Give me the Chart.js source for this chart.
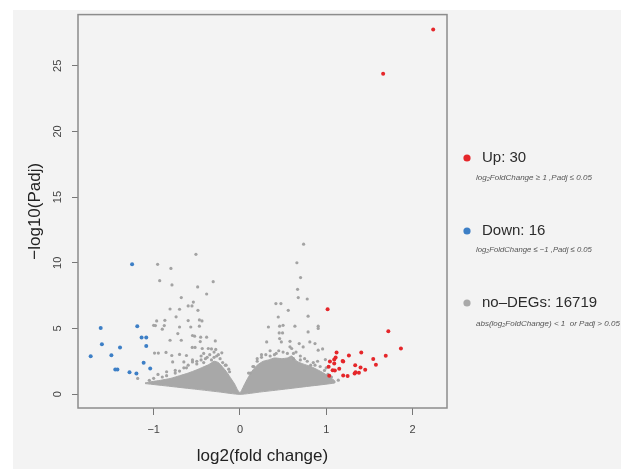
<!DOCTYPE html>
<html><head><meta charset="utf-8">
<script src="https://cdn.jsdelivr.net/npm/chart.js@4.4.1/dist/chart.umd.min.js"></script>
<style>html,body{margin:0;padding:0;background:#fff;}canvas{display:block;}</style>
</head><body>
<canvas id="c" width="621" height="469"></canvas>
<script>
// ---- data ----
const xTicks = [-1, 0, 1, 2];
const yTicks = [0, 5, 10, 15, 20, 25];

const upX = [2.24, 1.66, 1.016, 1.72, 1.866, 1.69, 1.545, 1.576, 1.406, 1.263, 1.12, 1.109, 1.093, 1.043, 1.197, 1.336, 1.398, 1.452, 1.34, 1.379, 1.329, 1.151, 1.074, 1.10, 1.197, 1.248, 1.035, 1.028, 1.093, 1.19];
const upY = [27.76, 24.4, 6.46, 4.79, 3.47, 2.91, 2.68, 2.23, 3.17, 2.94, 3.17, 2.79, 2.63, 2.48, 2.48, 2.20, 2.03, 1.85, 1.67, 1.62, 1.57, 1.92, 1.82, 1.80, 1.42, 1.37, 1.39, 2.08, 2.33, 2.51];

const downX = [-1.25, -1.614, -1.19, -1.14, -1.086, -1.60, -1.086, -1.39, -1.73, -1.49, -1.116, -1.445, -1.42, -1.28, -1.20, -1.04];
const downY = [9.88, 5.04, 5.16, 4.31, 4.31, 3.80, 3.67, 3.55, 2.89, 2.96, 2.38, 1.88, 1.88, 1.67, 1.57, 1.95];

const nsX = [-0.51, -0.954, -0.80, -0.93, -0.788, -0.49, -0.31, -0.386, -0.68, -0.54, -0.60, -0.556, -0.81, -0.70, -0.487, -0.74, -0.60, -0.965, -0.47, -0.44, -0.98, -0.877, -0.47, -0.70, -0.57, -0.72, -0.55, -0.525, -0.455, -0.386, -0.81, -0.68, -0.286, -0.46, -0.553, -0.52, -0.437, -0.367, -0.33, -0.99, -0.946, -0.857, -0.79, -0.70, -0.62, -0.21, -0.78, -0.65, -0.55, -1.185, -0.90, -0.45, -0.40, -0.35, -0.30, -0.25, -0.50, -0.62, -0.85, -0.95, -0.75, -0.28, -0.42, -1.00, -0.87,
  -0.55, -0.50, -0.45, -0.42, -0.38, -0.33, -0.30, -0.27, -0.23, -0.20, -0.17, -0.60, -0.65, -0.70, -0.75, -0.85, -0.90, -1.00, -1.05, -0.13,
  0.738, 0.66, 0.703, 0.668, 0.676, 0.78, 0.417, 0.475, 0.56, 0.444, 0.79, 0.33, 0.46, 0.50, 0.637, 0.907, 0.907, 0.455, 0.494, 0.79, 0.31, 0.46, 0.48, 0.687, 0.81, 0.87, 0.60, 0.733, 0.907, 0.958, 0.58, 0.99, 0.82, 0.87, 1.14, 0.62, 0.65, 0.70, 0.40, 0.35, 0.55, 0.25, 0.20, 0.45, 0.75, 0.90, 1.00, 0.16, 0.10, -0.12, -0.16,
  0.15, 0.20, 0.25, 0.30, 0.35, 0.42, 0.50, 0.58, 0.62, 0.70, 0.78, 0.85, 0.93, 0.98, 1.02, 1.06, 0.12];
const nsY = [10.64, 9.88, 9.57, 8.64, 8.31, 8.16, 8.56, 7.62, 7.35, 7.01, 6.71, 6.71, 6.48, 6.46, 6.38, 5.88, 5.60, 5.57, 5.65, 5.57, 5.22, 5.22, 5.17, 5.11, 5.11, 4.61, 4.46, 4.41, 4.33, 4.33, 4.10, 4.10, 4.05, 4.00, 3.55, 3.55, 3.47, 3.47, 3.44, 3.12, 3.12, 3.17, 2.94, 3.02, 2.94, 3.14, 2.45, 2.45, 2.45, 1.19, 4.94, 2.90, 2.70, 3.00, 2.80, 3.00, 2.30, 2.00, 1.70, 1.50, 1.80, 3.40, 3.10, 5.24, 5.62,
  2.6, 2.5, 2.6, 2.4, 2.8, 2.6, 3.2, 2.9, 2.7, 2.4, 2.2, 2.2, 2.0, 1.75, 1.6, 1.4, 1.3, 1.2, 1.05, 1.9,
  11.42, 10.0, 8.87, 7.98, 7.35, 7.24, 6.89, 6.89, 6.38, 5.87, 5.93, 5.11, 5.17, 5.24, 5.17, 5.17, 5.00, 4.66, 4.66, 4.73, 3.97, 4.23, 3.97, 3.85, 3.97, 3.85, 3.47, 3.59, 3.34, 3.44, 4.02, 2.63, 2.20, 2.20, 1.06, 3.10, 3.20, 2.90, 3.00, 2.90, 3.10, 2.80, 2.50, 3.30, 2.70, 2.50, 2.00, 2.10, 1.60, 1.70, 2.20,
  2.1, 2.7, 3.0, 3.0, 3.3, 3.1, 3.2, 3.6, 2.7, 2.6, 2.5, 2.4, 2.1, 1.8, 1.5, 1.3, 1.6];

// outline of the dense, overlapping cloud of non-significant genes
const massX = [-1.1, -0.8, -0.5, -0.25, 0, 0.25, 0.5, 0.8, 1.1, 1.1, 1.05, 0.97, 0.9, 0.82, 0.73, 0.66, 0.6, 0.55, 0.48, 0.4, 0.33, 0.27, 0.2, 0.14, 0.09, 0.05, 0.02, 0, -0.03, -0.06, -0.1, -0.15, -0.2, -0.25, -0.3, -0.36, -0.43, -0.5, -0.6, -0.7, -0.8, -0.92, -1.02, -1.1];
const massY = [0.8, 0.58, 0.36, 0.17, -0.02, 0.17, 0.36, 0.6, 0.85, 1.0, 1.25, 1.6, 1.85, 2.1, 2.3, 2.5, 2.9, 2.75, 2.7, 2.75, 2.6, 2.5, 2.2, 1.75, 1.2, 0.7, 0.3, 0.1, 0.35, 0.75, 1.15, 1.65, 2.05, 2.4, 2.5, 2.25, 2.05, 1.85, 1.6, 1.4, 1.2, 1.05, 0.95, 0.85];

const legendItems = [
  {label: 'Up: 30', note: 'log\u2082FoldChange \u2265 1 ,Padj \u2264 0.05', color: '#e5262a'},
  {label: 'Down: 16', note: 'log\u2082FoldChange \u2264 \u22121 ,Padj \u2264 0.05', color: '#3d7fc6'},
  {label: 'no\u2013DEGs: 16719', note: 'abs(log\u2082FoldChange) < 1  or Padj > 0.05', color: '#a9a9a9'}
];

const pts = (xs, ys) => xs.map((x, i) => ({x: x, y: ys[i]}));
const FONT = '"Liberation Sans", Arial, Helvetica, sans-serif';

const bgPlugin = {
  id: 'bg',
  beforeDraw(chart) {
    const ctx = chart.ctx;
    ctx.save();
    ctx.fillStyle = '#ffffff';
    ctx.fillRect(0, 0, chart.width, chart.height);
    ctx.fillStyle = '#f3f3f3';
    ctx.fillRect(13, 10, chart.width - 13, chart.height - 10);
    ctx.restore();
  },
  afterDraw(chart) {
    const ctx = chart.ctx, a = chart.chartArea;
    ctx.save();
    ctx.strokeStyle = '#8c8c8c';
    ctx.lineWidth = 1.5;
    ctx.strokeRect(a.left, a.top, a.right - a.left, a.bottom - a.top);
    // legend
    const ys = [158, 231, 303];
    const ny = [178, 250, 324];
    const nw = [116, 116, 144];
    legendItems.forEach((it, i) => {
      ctx.fillStyle = it.color;
      ctx.beginPath();
      ctx.arc(467, ys[i], 3.6, 0, Math.PI * 2);
      ctx.fill();
      ctx.fillStyle = '#2b2b2b';
      ctx.font = '15px ' + FONT;
      ctx.textBaseline = 'middle';
      ctx.textAlign = 'left';
      ctx.fillText(it.label, 482, ys[i]);
      ctx.font = 'italic 10px ' + FONT;
      const w = ctx.measureText(it.note).width;
      const fs = 10 * nw[i] / w;
      ctx.font = 'italic ' + fs.toFixed(2) + 'px ' + FONT;
      ctx.fillStyle = '#555';
      ctx.fillText(it.note, 476, ny[i]);
    });
    ctx.restore();
  }
};

new Chart(document.getElementById('c'), {
  type: 'scatter',
  data: {
    datasets: [
      {label: 'Up', data: pts(upX, upY), backgroundColor: '#e5262a', borderWidth: 0, pointRadius: 2},
      {label: 'Down', data: pts(downX, downY), backgroundColor: '#3d7fc6', borderWidth: 0, pointRadius: 2},
      {label: 'no-DEGs', data: pts(nsX, nsY), backgroundColor: '#a3a3a3', borderWidth: 0, pointRadius: 1.6},
      {type: 'line', label: 'cloud', data: pts(massX, massY), showLine: true, fill: 'shape', tension: 0.2,
       backgroundColor: '#a8a8a8', borderColor: '#a8a8a8', borderWidth: 1, pointRadius: 0}
    ]
  },
  options: {
    responsive: false,
    animation: false,
    devicePixelRatio: 1,
    layout: {padding: {left: 0, top: 14, right: 174, bottom: 0}},
    plugins: {legend: {display: false}, tooltip: {enabled: false}},
    scales: {
      x: {
        type: 'linear', min: -1.877, max: 2.40,
        afterBuildTicks: s => { s.ticks = xTicks.map(v => ({value: v})); },
        afterFit: s => { s.height = 61; },
        grid: {drawOnChartArea: false, drawTicks: true, tickLength: 7, color: '#777', lineWidth: 1},
        border: {display: false},
        ticks: {font: {size: 11, family: FONT}, color: '#444', padding: 8,
                callback: v => v < 0 ? '\u2212' + Math.abs(v) : String(v)},
        title: {display: true, text: 'log2(fold change)', font: {size: 17, family: FONT}, color: '#222', padding: {top: 0, bottom: 2}}
      },
      y: {
        type: 'linear', min: -1.06, max: 28.9,
        afterBuildTicks: s => { s.ticks = yTicks.map(v => ({value: v})); },
        afterFit: s => { s.width = 78; },
        grid: {drawOnChartArea: false, drawTicks: true, tickLength: 6, color: '#777', lineWidth: 1},
        border: {display: false},
        ticks: {font: {size: 11, family: FONT}, color: '#444', padding: 8, minRotation: 90, maxRotation: 90, crossAlign: 'center'},
        title: {display: true, text: '\u2212log10(Padj)', font: {size: 17, family: FONT}, color: '#222', padding: {top: 25, bottom: 0}}
      }
    }
  },
  plugins: [bgPlugin]
});
</script>
</body></html>
